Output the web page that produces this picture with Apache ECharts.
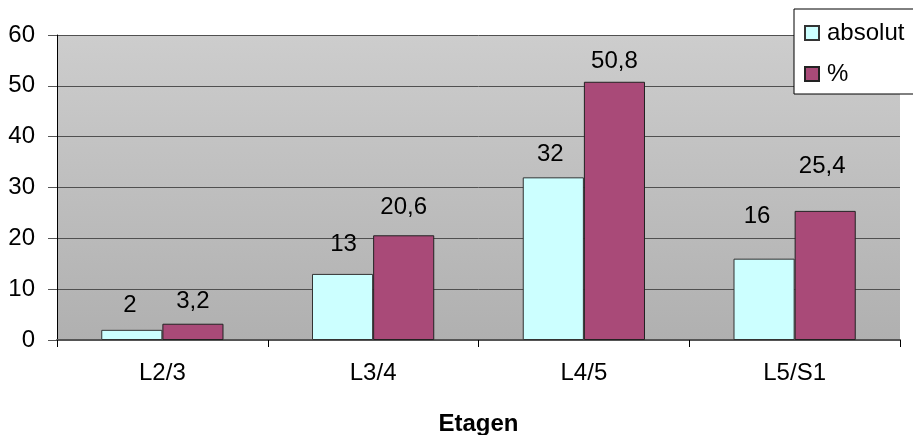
<!DOCTYPE html>
<html>
<head>
<meta charset="utf-8">
<script src="https://cdn.jsdelivr.net/npm/echarts@6/dist/echarts.min.js"></script>
<style>
  html, body { margin: 0; padding: 0; background: #ffffff; }
  #chart { width: 913px; height: 435px; }
</style>
</head>
<body>
<div id="chart"></div>
<script>
// Segment levels and counts per level
const categories = ['L2/3', 'L3/4', 'L4/5', 'L5/S1'];
const absolutValues = [2, 13, 32, 16];
const percentValues = [3.2, 20.6, 50.8, 25.4];
const yTicks = { min: 0, max: 60, interval: 10 };

// Hand-placed value labels: gap above each bar and sideways nudge (px)
const absolutLabelGap = [12, 18, 11, 30];
const absolutLabelShift = [-2, 1, -3, -7];
const percentLabelGap = [10, 16, 8, 33];
const percentLabelShift = [0, 0, 0, -3];

const FONT = 'Liberation Sans, Arial, sans-serif';
const commaFormat = p => String(p.value).replace('.', ',');

const withLabels = (values, gaps, shifts) => values.map((v, i) => ({
  value: v,
  label: { distance: gaps[i], offset: [shifts[i], 0] }
}));

const chart = echarts.init(document.getElementById('chart'), null, { renderer: 'canvas' });

chart.setOption({
  animation: false,
  textStyle: { fontFamily: FONT },
  grid: {
    left: 57, right: 13, top: 35, bottom: 95,
    outerBoundsMode: 'none',
    containLabel: false,
    show: true,
    borderWidth: 0,
    backgroundColor: new echarts.graphic.LinearGradient(0, 0, 0, 1, [
      { offset: 0, color: '#cdcdcd' },
      { offset: 1, color: '#b0b0b0' }
    ])
  },
  legend: {
    orient: 'vertical',
    left: 794, top: 9,
    padding: [12, 40, 8, 10],
    itemGap: 17,
    itemWidth: 14, itemHeight: 14,
    icon: 'rect',
    backgroundColor: '#ffffff',
    borderColor: '#000000',
    borderWidth: 1,
    borderRadius: 0,
    textStyle: { fontFamily: FONT, fontSize: 24, color: '#000000', padding: [0, 0, 0, 3] },
    data: ['absolut', '%']
  },
  xAxis: {
    type: 'category',
    data: categories,
    name: 'Etagen',
    nameLocation: 'middle',
    nameGap: 72,
    nameTextStyle: { fontFamily: FONT, fontSize: 24, fontWeight: 'bold', color: '#000000' },
    axisLine: { lineStyle: { color: '#555555', width: 2 } },
    axisTick: { show: true, length: 7, lineStyle: { color: '#000000' } },
    axisLabel: { fontFamily: FONT, fontSize: 24, color: '#000000', margin: 21 }
  },
  yAxis: {
    type: 'value',
    min: yTicks.min, max: yTicks.max, interval: yTicks.interval,
    axisLine: { show: true, lineStyle: { color: '#000000', width: 1 } },
    axisTick: { show: true, length: 9, lineStyle: { color: '#555555' } },
    axisLabel: { fontFamily: FONT, fontSize: 24, color: '#000000', margin: 22 },
    splitLine: { show: true, lineStyle: { color: '#505050', width: 1 } }
  },
  series: [
    {
      name: 'absolut',
      type: 'bar',
      data: withLabels(absolutValues, absolutLabelGap, absolutLabelShift),
      barWidth: '29%',
      barGap: '0%',
      itemStyle: { color: '#ccffff', borderColor: '#333333', borderWidth: 1 },
      label: {
        show: true, position: 'top',
        fontFamily: FONT, fontSize: 24, color: '#000000',
        formatter: commaFormat
      }
    },
    {
      name: '%',
      type: 'bar',
      data: withLabels(percentValues, percentLabelGap, percentLabelShift),
      barWidth: '29%',
      itemStyle: { color: '#a94a78', borderColor: '#222222', borderWidth: 1 },
      label: {
        show: true, position: 'top',
        fontFamily: FONT, fontSize: 24, color: '#000000',
        formatter: commaFormat
      }
    }
  ]
});
</script>
</body>
</html>
